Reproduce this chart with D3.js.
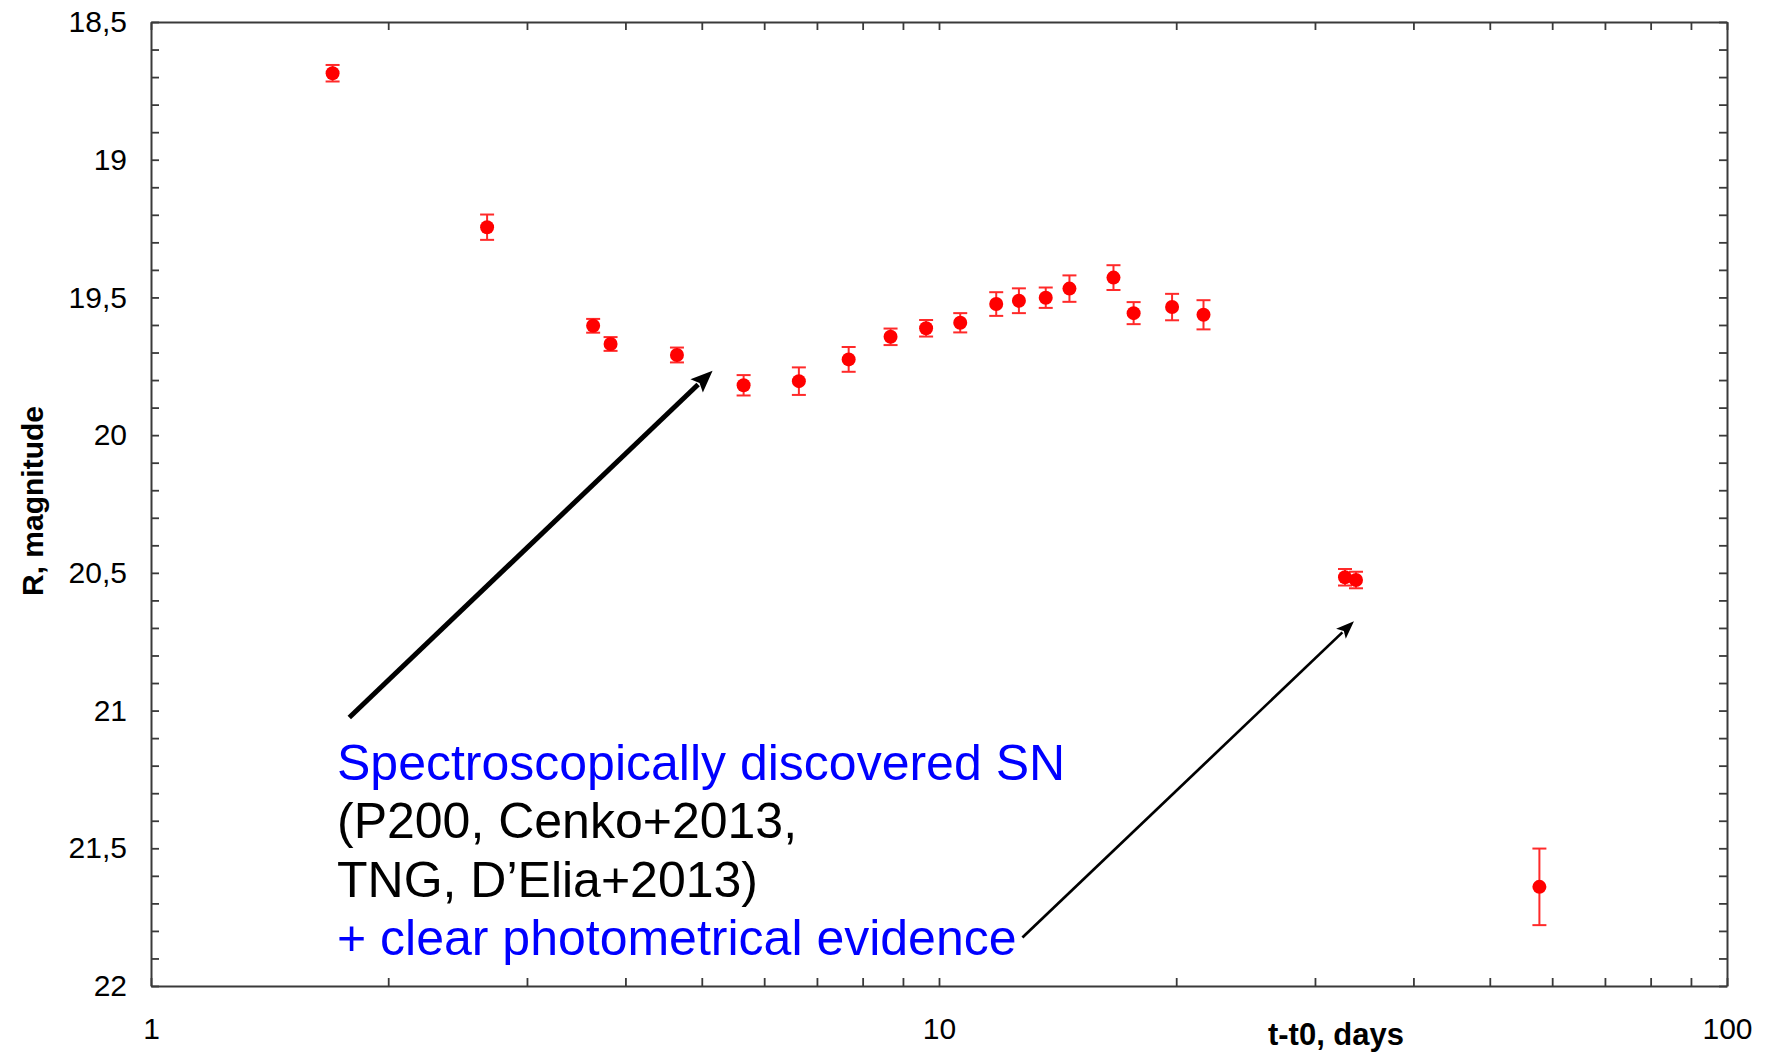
<!DOCTYPE html>
<html>
<head>
<meta charset="utf-8">
<script src="https://cdn.jsdelivr.net/npm/d3@7"></script>
<style>
  html, body { margin: 0; padding: 0; background: #fff; }
  svg { display: block; font-family: "Liberation Sans", Arial, sans-serif; }
</style>
</head>
<body>
<svg id="chart" width="1767" height="1055"></svg>
<script>
// ---- data ----
const days = [1.70, 2.67, 3.64, 3.83, 4.65, 5.65, 6.64, 7.68, 8.68, 9.63, 10.64, 11.82, 12.63, 13.66, 14.64, 16.65, 17.66, 19.76, 21.66, 32.75, 33.82, 57.8];
const magR = [18.686, 19.245, 19.603, 19.669, 19.709, 19.819, 19.804, 19.725, 19.643, 19.612, 19.592, 19.524, 19.512, 19.501, 19.468, 19.428, 19.557, 19.535, 19.563, 20.516, 20.526, 21.64];
const magErr = [0.03, 0.046, 0.025, 0.025, 0.027, 0.037, 0.05, 0.045, 0.03, 0.03, 0.035, 0.043, 0.045, 0.037, 0.048, 0.045, 0.04, 0.048, 0.053, 0.03, 0.03, 0.139];

const yTickValues = [18.5, 19, 19.5, 20, 20.5, 21, 21.5, 22];
const yTickLabels = ["18,5", "19", "19,5", "20", "20,5", "21", "21,5", "22"];
const xTickValues = [1, 10, 100];
const xTickLabels = ["1", "10", "100"];

const xLabel = "t-t0, days";
const yLabel = "R, magnitude";

const noteLines = [
  { text: "Spectroscopically discovered SN", color: "#0000ff" },
  { text: "(P200, Cenko+2013,", color: "#000000" },
  { text: "TNG, D\u2019Elia+2013)", color: "#000000" },
  { text: "+ clear photometrical evidence", color: "#0000ff" }
];
// annotation anchor / arrows in data coordinates [days, mag]
const noteAnchor = [1.722, 21.252];
const arrows = [
  { from: [1.785, 21.025], to: [5.16, 19.766], width: 5, headLen: 22, headW: 18 },
  { from: [12.76, 21.824], to: [33.62, 20.676], width: 2.7, headLen: 18, headW: 14 }
];

// ---- layout ----
const margin = { left: 151, top: 22, right: 1767 - 1727, bottom: 1055 - 986 };
const W = 1767, H = 1055;
const svg = d3.select("#chart");

const x = d3.scaleLog().domain([1, 100]).range([margin.left, W - margin.right]);
const y = d3.scaleLinear().domain([18.5, 22]).range([margin.top, H - margin.bottom]);

const axisColor = "#3a3a3a";
const tickLen = 8;

const xMinor = [];
for (let d = 1; d < 100; d *= 10) for (let k = 2; k <= 9; k++) xMinor.push(d * k);
const yMinor = d3.range(18.6, 22.0, 0.1).map(v => +v.toFixed(1)).filter(v => !yTickValues.includes(v));

function styleAxis(g) {
  g.selectAll("path.domain").attr("stroke", axisColor).attr("stroke-width", 2);
  g.selectAll(".tick line").attr("stroke", axisColor).attr("stroke-width", 1.8);
  g.selectAll(".tick text").attr("fill", "#000").attr("font-size", 30)
    .attr("font-family", "\"Liberation Sans\", Arial, sans-serif");
}

// bottom axis
const gB = svg.append("g").attr("transform", `translate(0,${y(22)})`)
  .call(d3.axisBottom(x).tickValues(xTickValues).tickSizeInner(-tickLen).tickSizeOuter(0).tickPadding(32)
    .tickFormat((d, i) => xTickLabels[i]));
styleAxis(gB);
const gBm = svg.append("g").attr("transform", `translate(0,${y(22)})`)
  .call(d3.axisBottom(x).tickValues(xMinor).tickSizeInner(-tickLen).tickSizeOuter(0).tickFormat(""));
styleAxis(gBm); gBm.select("path.domain").remove();

// top axis
const gT = svg.append("g").attr("transform", `translate(0,${y(18.5)})`)
  .call(d3.axisTop(x).tickValues(xTickValues.concat(xMinor)).tickSizeInner(-tickLen).tickSizeOuter(0).tickFormat(""));
styleAxis(gT);

// left axis
const gL = svg.append("g").attr("transform", `translate(${x(1)},0)`)
  .call(d3.axisLeft(y).tickValues(yTickValues).tickSizeInner(-tickLen).tickSizeOuter(0).tickPadding(24)
    .tickFormat((d, i) => yTickLabels[i]));
styleAxis(gL);
const gLm = svg.append("g").attr("transform", `translate(${x(1)},0)`)
  .call(d3.axisLeft(y).tickValues(yMinor).tickSizeInner(-tickLen).tickSizeOuter(0).tickFormat(""));
styleAxis(gLm); gLm.select("path.domain").remove();

// right axis
const gR = svg.append("g").attr("transform", `translate(${x(100)},0)`)
  .call(d3.axisRight(y).tickValues(yTickValues.concat(yMinor)).tickSizeInner(-tickLen).tickSizeOuter(0).tickFormat(""));
styleAxis(gR);

// axis titles
svg.append("text").attr("x", 1336).attr("y", 1045).attr("text-anchor", "middle")
  .attr("font-size", 31).attr("font-weight", "bold").text(xLabel);
svg.append("text").attr("transform", "translate(43,501) rotate(-90)").attr("text-anchor", "middle")
  .attr("font-size", 30).attr("font-weight", "bold").text(yLabel);

// data
const pts = days.map((d, i) => ({ t: d, m: magR[i], e: magErr[i] }));
const red = "#ff0000";
const cap = 7;
const gE = svg.append("g").attr("stroke", "#ff2a2a").attr("stroke-width", 2).attr("fill", "none");
gE.selectAll("line.v").data(pts).join("line").attr("class", "v")
  .attr("x1", d => x(d.t)).attr("x2", d => x(d.t))
  .attr("y1", d => y(d.m - d.e)).attr("y2", d => y(d.m + d.e));
gE.selectAll("line.ct").data(pts).join("line").attr("class", "ct")
  .attr("x1", d => x(d.t) - cap).attr("x2", d => x(d.t) + cap)
  .attr("y1", d => y(d.m - d.e)).attr("y2", d => y(d.m - d.e));
gE.selectAll("line.cb").data(pts).join("line").attr("class", "cb")
  .attr("x1", d => x(d.t) - cap).attr("x2", d => x(d.t) + cap)
  .attr("y1", d => y(d.m + d.e)).attr("y2", d => y(d.m + d.e));
svg.append("g").selectAll("circle").data(pts).join("circle")
  .attr("cx", d => x(d.t)).attr("cy", d => y(d.m)).attr("r", 7).attr("fill", red);

// arrows
arrows.forEach(a => {
  const x0 = x(a.from[0]), y0 = y(a.from[1]);
  const x1 = x(a.to[0]), y1 = y(a.to[1]);
  const dx = x1 - x0, dy = y1 - y0, L = Math.hypot(dx, dy);
  const ux = dx / L, uy = dy / L;
  const bx = x1 - ux * a.headLen, by = y1 - uy * a.headLen;
  svg.append("line").attr("x1", x0).attr("y1", y0).attr("x2", bx + ux * 2).attr("y2", by + uy * 2)
    .attr("stroke", "#000").attr("stroke-width", a.width);
  const px = -uy, py = ux;
  svg.append("polygon")
    .attr("points", [[x1, y1], [bx + px * a.headW / 2, by + py * a.headW / 2], [bx + ux * 4, by + uy * 4], [bx - px * a.headW / 2, by - py * a.headW / 2]].map(p => p.join(",")).join(" "))
    .attr("fill", "#000");
});

// annotation text
const nx = x(noteAnchor[0]), ny = y(noteAnchor[1]);
svg.append("g").selectAll("text").data(noteLines).join("text")
  .attr("x", nx).attr("y", (d, i) => ny + i * 58.5)
  .attr("font-size", 50).attr("fill", d => d.color).text(d => d.text);
</script>
</body>
</html>
